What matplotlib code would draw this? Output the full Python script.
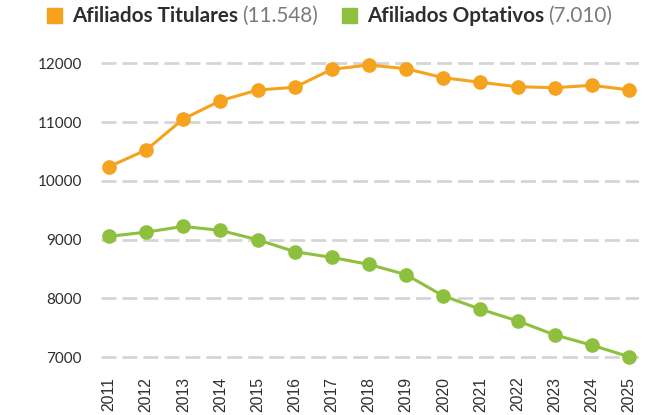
import matplotlib
matplotlib.use("Agg")
import matplotlib.pyplot as plt
from matplotlib.patches import Rectangle

years = list(range(2011, 2026))
titulares = [10242, 10526, 11053, 11364, 11546, 11592, 11898, 11971,
             11908, 11755, 11677, 11602, 11585, 11626, 11548]
optativos = [9056, 9129, 9226, 9158, 9000, 8796, 8699, 8580,
             8405, 8044, 7818, 7619, 7381, 7206, 7010]
yticks = [7000, 8000, 9000, 10000, 11000, 12000]

series_names = ["Afiliados Titulares", "Afiliados Optativos"]
series_totals = ["(11.548)", "(7.010)"]
ORANGE = "#F5A21F"
GREEN = "#8DC03F"
TEXT = "#2e2e2e"
GRID = "#d4d4d4"

plt.rcParams["lines.scale_dashes"] = False

W, H = 649, 415
fig = plt.figure(figsize=(W / 100, H / 100), dpi=100)

def fx(px):
    return px / W

def fy(py):
    return 1 - py / H

left, right, top, bottom = 101, 639, 54.5, 366.1
ax = fig.add_axes([fx(left), fy(bottom), fx(right - left), (bottom - top) / H])

ax.set_xlim(2010.785, 2025.27)
ax.set_ylim(6850, 12150)

for v in yticks:
    ax.axhline(v, color=GRID, lw=1.95, dashes=(10.8, 4.3), zorder=1)

ax.plot(years, titulares, color=ORANGE, lw=2.2, marker="o", ms=9.5,
        zorder=3, clip_on=False)
ax.plot(years, optativos, color=GREEN, lw=2.2, marker="o", ms=9.5,
        zorder=3, clip_on=False)

for s in ax.spines.values():
    s.set_visible(False)

ax.set_yticks(yticks)
ax.set_yticklabels([str(v) for v in yticks], family="Lato", fontsize=11,
                   color=TEXT)
ax.set_xticks(years)
ax.set_xticklabels([str(y) for y in years], family="Liberation Sans",
                   fontsize=11.3, color=TEXT, rotation=90)
ax.tick_params(axis="y", length=0, pad=13.7)
ax.tick_params(axis="x", length=0, pad=7.6)

# legend drawn as text runs with coloured squares
baseline = 21.7
renderer = fig.canvas.get_renderer()
x = 46.7
for name, total, col in zip(series_names, series_totals, [ORANGE, GREEN]):
    fig.patches.append(Rectangle((fx(x), fy(23.3)), fx(15), 15 / H,
                                 transform=fig.transFigure, color=col))
    t = fig.text(fx(x + 25), fy(baseline), name, family="Lato",
                 weight="bold", fontsize=14.9, color=TEXT, va="baseline")
    bb = t.get_window_extent(renderer)
    t2 = fig.text(fx(bb.x1 + 4), fy(baseline), total, family="Lato",
                  weight="normal", fontsize=14.9, color="#7a7a7a",
                  va="baseline")
    bb2 = t2.get_window_extent(renderer)
    x = bb2.x1 + 25

fig.savefig("out.png", dpi=100)
